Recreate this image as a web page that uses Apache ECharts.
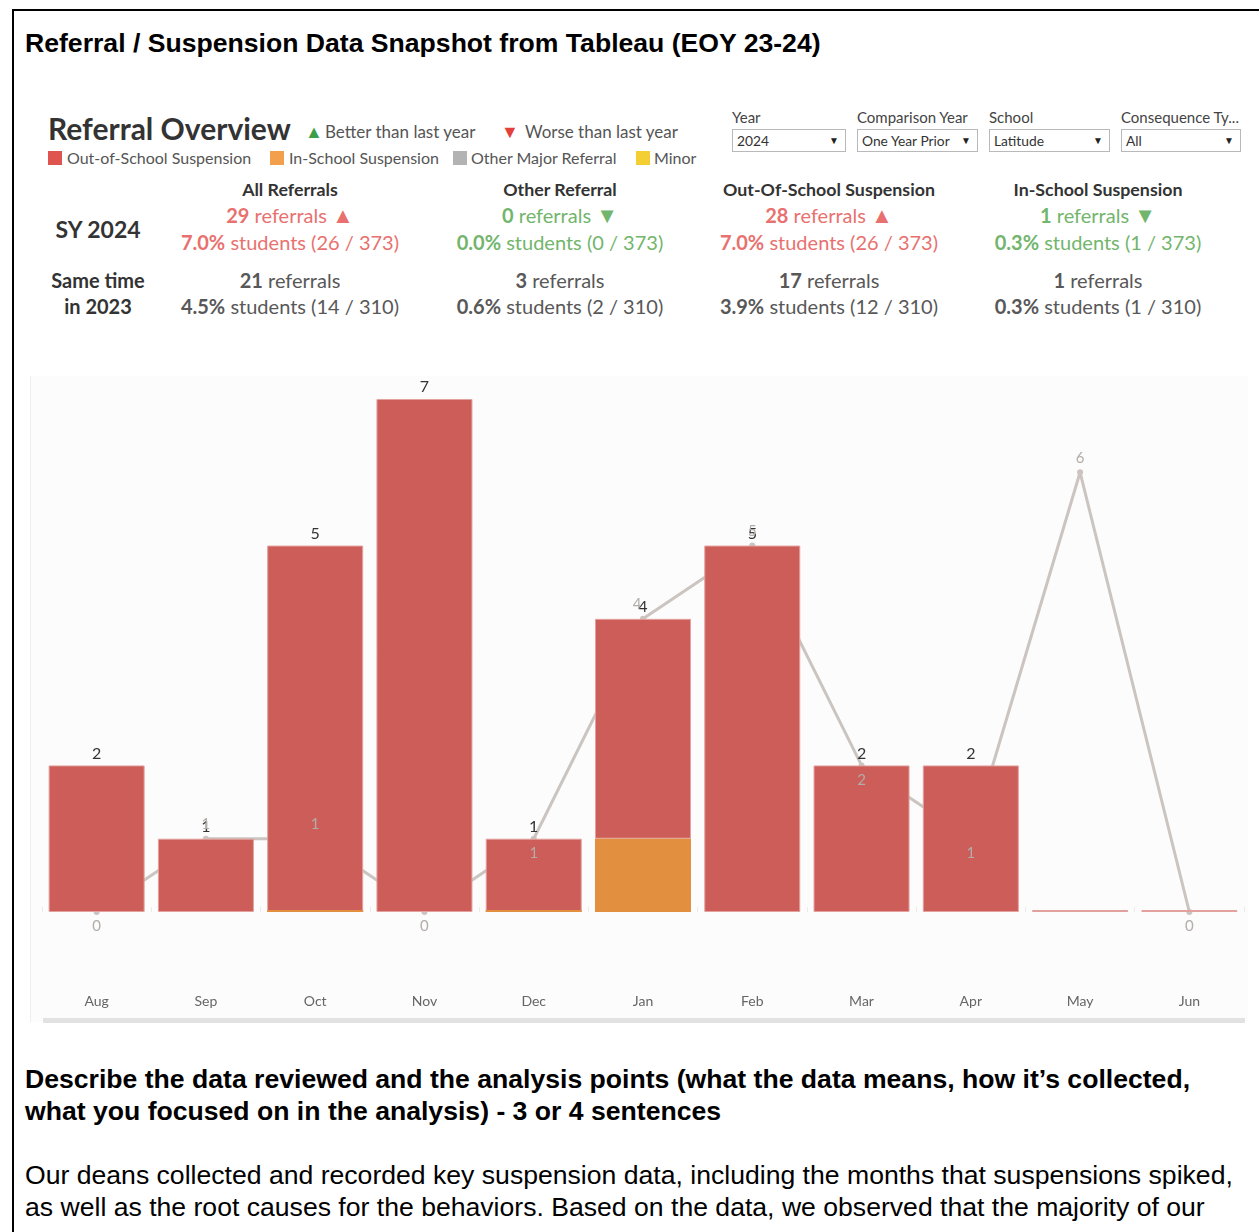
<!DOCTYPE html>
<html>
<head>
<meta charset="utf-8">
<title>Referral / Suspension Data Snapshot</title>
<script src="https://cdn.jsdelivr.net/npm/echarts@6/dist/echarts.min.js"></script>
<style>
    body { margin: 0; background: #fff; }
    .page { position: relative; width: 1259px; height: 1232px; overflow: hidden; }
    .frame { position: absolute; left: 12px; top: 9px; width: 1300px; height: 1300px;
             border-top: 2px solid #000; border-left: 2px solid #000; }
    .t { position: absolute; white-space: nowrap; }
    .doc { font-family: "Liberation Sans", Arial, sans-serif; font-size: 26.6px; color: #000; left: 25px; }
    .tab { font-family: Lato, "Noto Sans", sans-serif; }
    .col { position: absolute; width: 300px; text-align: center; white-space: nowrap;
           font-family: Lato, "Noto Sans", sans-serif; }
    .hdr { font-size: 17.8px; font-weight: 700; color: #333; line-height: 22px; }
    .kpi { font-size: 20px; line-height: 26px; }
    .kpi b { font-weight: 700; }
    .kpi i { font-style: normal; font-size: 22px; }
    .red { color: #e8716f; }
    .green { color: #72b56c; }
    .gray { color: #585858; }
    .sq { position: absolute; width: 14px; height: 14px; top: 151px; }
    .leg { font-size: 16px; color: #555; line-height: 20px; top: 148px; }
    .flab { font-size: 15px; color: #444; line-height: 18px; top: 108px; }
    .box { position: absolute; top: 129px; height: 21px; border: 1px solid #b9b9b9; background: #fff;
           font-family: Lato, "Noto Sans", sans-serif; font-size: 13.8px; color: #333; line-height: 21px;
           box-sizing: content-box; }
    .box span { position: absolute; left: 4px; }
    .box i { position: absolute; right: 6px; font-style: normal; font-size: 10px; color: #222; }
    #chart { position: absolute; left: 0; top: 360px; width: 1259px; height: 680px; }
</style>
</head>
<body>
<div class="page">
    <div class="frame"></div>
    <div class="t doc" style="top:29px;line-height:28px;font-weight:700;">Referral / Suspension Data Snapshot from Tableau (EOY 23-24)</div>

    <!-- 表头 -->
    <div class="t tab" style="left:48px;top:110px;line-height:36px;font-size:30px;font-weight:700;color:#333;">Referral Overview</div>
    <div class="t tab" style="left:305px;top:120px;line-height:22px;font-size:18px;color:#3e9e48;">▲</div>
    <div class="t tab" style="left:325px;top:122px;line-height:20px;font-size:17px;color:#555;">Better than last year</div>
    <div class="t tab" style="left:501px;top:120px;line-height:22px;font-size:18px;color:#e3403b;">▼</div>
    <div class="t tab" style="left:525px;top:122px;line-height:20px;font-size:17px;color:#555;">Worse than last year</div>

    <div class="sq" style="left:48px;background:#e05450;"></div>
    <div class="t tab leg" style="left:67px;">Out-of-School Suspension</div>
    <div class="sq" style="left:270px;background:#f3a04d;"></div>
    <div class="t tab leg" style="left:289px;">In-School Suspension</div>
    <div class="sq" style="left:453px;background:#b3b3b3;"></div>
    <div class="t tab leg" style="left:471px;">Other Major Referral</div>
    <div class="sq" style="left:636px;background:#f3cf33;"></div>
    <div class="t tab leg" style="left:654px;">Minor</div>

    <!-- 筛选器 -->
    <div class="t tab flab" style="left:732px;">Year</div>
    <div class="t tab flab" style="left:857px;">Comparison Year</div>
    <div class="t tab flab" style="left:989px;">School</div>
    <div class="t tab flab" style="left:1121px;">Consequence Ty...</div>
    <div class="box" style="left:732px;width:112px;"><span>2024</span><i>▼</i></div>
    <div class="box" style="left:857px;width:119px;"><span>One Year Prior</span><i>▼</i></div>
    <div class="box" style="left:989px;width:119px;"><span>Latitude</span><i>▼</i></div>
    <div class="box" style="left:1121px;width:118px;"><span>All</span><i>▼</i></div>

    <!-- KPI -->
    <div class="col" style="left:-52px;top:215px;line-height:28px;font-size:23px;font-weight:700;color:#333;">SY 2024</div>
    <div class="col" style="left:-52px;top:267px;line-height:26px;font-size:20px;font-weight:700;color:#333;">Same time<br>in 2023</div>

    <div class="col hdr" style="left:140px;top:178px;">All Referrals</div>
    <div class="col kpi red" style="left:140px;top:202px;"><b>29</b> referrals <i>▲</i></div>
    <div class="col kpi red" style="left:140px;top:229px;"><b>7.0%</b> students (26 / 373)</div>
    <div class="col kpi gray" style="left:140px;top:267px;"><b>21</b> referrals</div>
    <div class="col kpi gray" style="left:140px;top:293px;"><b>4.5%</b> students (14 / 310)</div>

    <div class="col hdr" style="left:410px;top:178px;">Other Referral</div>
    <div class="col kpi green" style="left:410px;top:202px;"><b>0</b> referrals <i>▼</i></div>
    <div class="col kpi green" style="left:410px;top:229px;"><b>0.0%</b> students (0 / 373)</div>
    <div class="col kpi gray" style="left:410px;top:267px;"><b>3</b> referrals</div>
    <div class="col kpi gray" style="left:410px;top:293px;"><b>0.6%</b> students (2 / 310)</div>

    <div class="col hdr" style="left:679px;top:178px;">Out-Of-School Suspension</div>
    <div class="col kpi red" style="left:679px;top:202px;"><b>28</b> referrals <i>▲</i></div>
    <div class="col kpi red" style="left:679px;top:229px;"><b>7.0%</b> students (26 / 373)</div>
    <div class="col kpi gray" style="left:679px;top:267px;"><b>17</b> referrals</div>
    <div class="col kpi gray" style="left:679px;top:293px;"><b>3.9%</b> students (12 / 310)</div>

    <div class="col hdr" style="left:948px;top:178px;">In-School Suspension</div>
    <div class="col kpi green" style="left:948px;top:202px;"><b>1</b> referrals <i>▼</i></div>
    <div class="col kpi green" style="left:948px;top:229px;"><b>0.3%</b> students (1 / 373)</div>
    <div class="col kpi gray" style="left:948px;top:267px;"><b>1</b> referrals</div>
    <div class="col kpi gray" style="left:948px;top:293px;"><b>0.3%</b> students (1 / 310)</div>

    <div id="chart"></div>

    <div class="t doc" style="top:1063px;line-height:32px;font-weight:700;">Describe the data reviewed and the analysis points (what the data means, how it’s collected,<br>what you focused on in the analysis) - 3 or 4 sentences</div>
    <div class="t doc" style="top:1159px;line-height:32px;">Our deans collected and recorded key suspension data, including the months that suspensions spiked,<br>as well as the root causes for the behaviors. Based on the data, we observed that the majority of our</div>
</div>

<script>
// 月份
var months = ['Aug', 'Sep', 'Oct', 'Nov', 'Dec', 'Jan', 'Feb', 'Mar', 'Apr', 'May', 'Jun'];
// 本年 校外停学
var ossCounts = [2, 1, 5, 7, 1, 3, 5, 2, 2, 0, 0];
// 本年 校内停学 (null = 无记录)
var issCounts = [null, null, 0, null, 0, 1, null, null, null, null, null];
// 去年同期 (折线)
var priorYear = [0, 1, 1, 0, 1, 4, 5, 2, 1, 6, 0];
// 折线标签位置
var priorLabelPos = ['bottom', 'top', 'top', 'bottom', 'bottom', 'top', 'top', 'bottom', 'bottom', 'top', 'bottom'];

(function () {
    var myChart = echarts.init(document.getElementById('chart'));
    var font = 'Lato, "Noto Sans", sans-serif';

    var totals = ossCounts.map(function (v, i) {
        return v + (issCounts[i] || 0);
    });

    var option = {
        animation: false,
        textStyle: { fontFamily: font },
        grid: {
            left: 42,
            right: 15,
            top: 39,
            bottom: 128,
            containLabel: false
        },
        graphic: [
            {
                type: 'rect', z: -10, silent: true,
                shape: { x: 30, y: 16, width: 1218, height: 646 },
                style: { fill: '#fcfcfc' }
            },
            {
                type: 'line', z: -9, silent: true,
                shape: { x1: 30.5, y1: 16, x2: 30.5, y2: 662 },
                style: { stroke: '#eeeeee', lineWidth: 1 }
            },
            {
                type: 'rect', z: -9, silent: true,
                shape: { x: 43, y: 658, width: 1202, height: 5 },
                style: { fill: '#e2e2e2' }
            }
        ],
        xAxis: {
            type: 'category',
            data: months,
            offset: 73,
            axisLine: { show: false },
            axisTick: {
                show: true,
                length: 5,
                inside: true,
                lineStyle: { color: '#ebebeb' }
            },
            axisLabel: {
                color: '#666',
                fontSize: 14,
                margin: 9
            }
        },
        yAxis: {
            type: 'value',
            min: 0,
            max: 7,
            show: false,
            splitLine: { show: false }
        },
        series: [
            {
                name: 'In-School Suspension',
                type: 'bar',
                stack: 'cur',
                z: 3,
                barWidth: 96,
                barMinHeight: 2,
                data: issCounts.map(function (v) { return v === null ? '-' : v; }),
                itemStyle: { color: '#e2903f' }
            },
            {
                name: 'Out-of-School Suspension',
                type: 'bar',
                stack: 'cur',
                barWidth: 96,
                barMinHeight: 2,
                data: ossCounts,
                itemStyle: {
                    color: '#cc5d58',
                    borderColor: '#e3a19d',
                    borderWidth: 1
                },
                label: {
                    show: true,
                    position: 'top',
                    distance: 4,
                    color: '#333',
                    fontSize: 16,
                    formatter: function (p) {
                        return totals[p.dataIndex] > 0 ? totals[p.dataIndex] : '';
                    }
                }
            },
            {
                // 去年同期折线，在柱子后面
                name: 'Same time 2023',
                type: 'line',
                z: 1,
                data: priorYear,
                symbol: 'circle',
                symbolSize: 6,
                itemStyle: { color: '#cbc4c0' },
                lineStyle: { color: '#cbc4c0', width: 3 }
            },
            {
                // 折线标签，画在柱子上面
                name: 'Same time 2023 labels',
                type: 'line',
                z: 5,
                symbol: 'circle',
                symbolSize: 2,
                itemStyle: { color: 'rgba(0,0,0,0)' },
                lineStyle: { opacity: 0 },
                data: priorYear.map(function (v, i) {
                    return {
                        value: v,
                        label: {
                            position: priorLabelPos[i],
                            offset: i === 5 ? [-6, 0] : [0, 0]
                        }
                    };
                }),
                label: {
                    show: true,
                    distance: 6,
                    color: '#b3aca9',
                    fontSize: 15
                }
            }
        ]
    };
    myChart.setOption(option);
    window.addEventListener('resize', function () {
        myChart.resize();
    });
})();
</script>
</body>
</html>
